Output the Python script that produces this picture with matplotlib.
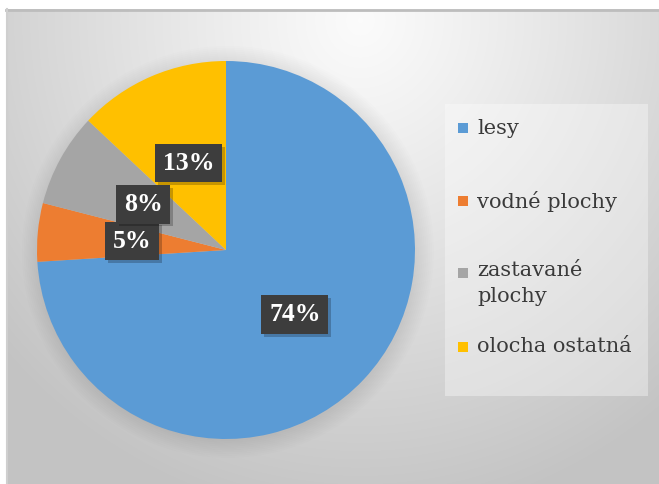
import numpy as np
import matplotlib.pyplot as plt
import matplotlib.patheffects as pe
from matplotlib.patches import Rectangle, Circle

categories = ["lesy", "vodné plochy", "zastavané\nplochy", "olocha ostatná"]
values = [74, 5, 8, 13]
colors = ["#5B9BD5", "#ED7D31", "#A5A5A5", "#FFC000"]

W, H = 659, 484
fig = plt.figure(figsize=(W / 100, H / 100), dpi=100)
fig.patch.set_facecolor("white")

# background: white margin + gray radial gradient panel
bg = fig.add_axes([0, 0, 1, 1])
bg.set_xlim(0, W)
bg.set_ylim(H, 0)
bg.axis("off")
yy, xx = np.mgrid[0:H, 0:W]
d = np.sqrt((xx - 360) ** 2 + ((yy - 20) / 1.05) ** 2)
g = 0.985 - 0.22 * np.clip(d / 480, 0, 1) ** 1.1
img = np.dstack([g, g, g])
img[:9, :, :] = 1.0
img[:, :6, :] = 1.0
bg.imshow(img, extent=(0, W, H, 0), interpolation="bilinear", zorder=0)
bg.plot([6, W], [9.5, 9.5], color="#bdbdbd", lw=2, zorder=1)
bg.plot([6.5, 6.5], [9, H], color="#cfcfcf", lw=1.5, zorder=1)

# legend panel
bg.add_patch(Rectangle((445, 104), 203, 292, facecolor="white", alpha=0.35,
                       edgecolor="none", zorder=2))

# pie
cx, cy, r = 226, 250, 189
ax = fig.add_axes([(cx - r) / W, (H - cy - r) / H, 2 * r / W, 2 * r / H])
ax.axis("off")
# soft shadow around the pie
for k in range(10):
    ax.add_patch(Circle((0.01, -0.01), 1.0 + 0.01 * k, facecolor="black",
                        alpha=0.009, edgecolor="none", zorder=0, clip_on=False))
wedges, texts, autotexts = ax.pie(
    values, colors=colors, startangle=90, counterclock=False,
    autopct="%1.0f%%", pctdistance=0.5,
    wedgeprops=dict(linewidth=0, zorder=2),
    textprops=dict(color="white", fontsize=18.5, fontweight="bold",
                   family="Liberation Serif"))
for t in autotexts:
    t.set_zorder(5)
    t.set_bbox(dict(boxstyle="square,pad=0.3", facecolor="#3d3d3d",
                    edgecolor="none"))
    t.get_bbox_patch().set_path_effects(
        [pe.SimplePatchShadow(offset=(2, -2), shadow_rgbFace="black", alpha=0.22),
         pe.Normal()])
ax.set_xlim(-1, 1)
ax.set_ylim(-1, 1)
ax.set_aspect("equal")

# legend (manual, to match spacing of the original)
leg_y = [128, 201, 273, 347]
for lab, col, y in zip(categories, colors, leg_y):
    bg.add_patch(Rectangle((458, y - 5), 10, 10, facecolor=col,
                           edgecolor="none", zorder=3))
    two = "\n" in lab
    bg.text(477, y - 12 if two else y, lab, fontsize=15, family="DejaVu Serif",
            color="#3a3a3a", va="top" if two else "center",
            ha="left", linespacing=1.45, zorder=3)

fig.savefig("out.png", dpi=100)
